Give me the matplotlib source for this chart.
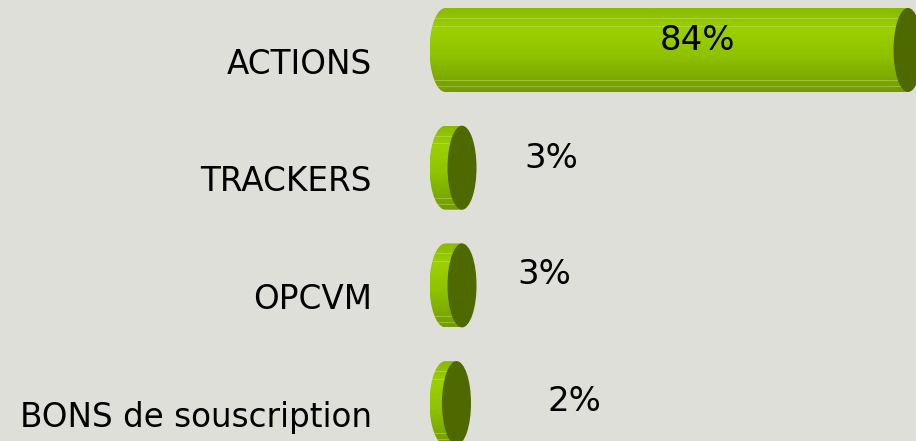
#!/usr/bin/env python3
"""Horizontal cylinder bars: breakdown of holdings by instrument type."""

import matplotlib.pyplot as plt
import numpy as np
from matplotlib.colors import LinearSegmentedColormap
from matplotlib.patches import Ellipse, PathPatch
from matplotlib.path import Path

categories = ["ACTIONS", "TRACKERS", "OPCVM", "BONS de souscription"]
values = [84, 3, 3, 2]
value_labels = ["84%", "3%", "3%", "2%"]

BG = "#dfdfda"
CAP = "#4d6900"
body_cmap = LinearSegmentedColormap.from_list(
    "body", [(0.0, "#88ba00"), (0.25, "#9dd000"), (0.55, "#90c300"), (1.0, "#729b00")]
)

PX_PER_UNIT = 5.506
ORIGIN_PX = 445.5
ROW_PX = 117.7
RX = 14.5 / PX_PER_UNIT        # half width of the end cap ellipse, data units
RX_LEFT = 16 / PX_PER_UNIT     # half width of the rounded left end
BAR_H = 84 / ROW_PX            # cylinder diameter, row units


def body_path(v, y, h):
    """Rectangle from 0 to v with a half-ellipse left end."""
    verts = [(v, y - h / 2), (0, y - h / 2)]
    tt = np.linspace(0, np.pi, 40)
    verts += [(-RX_LEFT * np.sin(a), y - (h / 2) * np.cos(a)) for a in tt]
    verts += [(v, y + h / 2), (v, y - h / 2)]
    codes = [Path.MOVETO] + [Path.LINETO] * (len(verts) - 2) + [Path.CLOSEPOLY]
    return Path(verts, codes)


def main():
    fig = plt.figure(figsize=(9.16, 4.41), dpi=100, facecolor=BG)
    ax = fig.add_axes([0, 0, 1, 1])
    ax.set_facecolor(BG)

    grad = np.linspace(0, 1, 256).reshape(-1, 1)
    for i, v in enumerate(values):
        patch = PathPatch(body_path(v, i, BAR_H), facecolor="none", edgecolor="none")
        ax.add_patch(patch)
        im = ax.imshow(grad, cmap=body_cmap, aspect="auto", interpolation="bilinear",
                       extent=[-RX_LEFT, v, i + BAR_H / 2, i - BAR_H / 2], zorder=2)
        im.set_clip_path(patch)
        # faint highlight streaks along the cylinder
        for frac in (0.12, 0.21, 0.86, 0.93):
            ln, = ax.plot([-RX_LEFT, v], [i - BAR_H / 2 + frac * BAR_H] * 2,
                          color="#c8e27a", lw=0.7, alpha=0.45, zorder=3)
            ln.set_clip_path(patch)
        ax.add_patch(Ellipse((v, i), 2 * RX, BAR_H, facecolor=CAP,
                             edgecolor="none", zorder=4))

        ax.text(-13.35, i + 0.12, categories[i], ha="right", va="center",
                fontsize=23.5, color="black", family="DejaVu Sans")

    # value labels, nudged like the original slide
    label_x = [values[0] / 2 + 3.7, values[1] + 16.3, values[2] + 14.9, values[3] + 21.5]
    label_dy = [-0.08, -0.08, -0.09, -0.01]
    for i, txt in enumerate(value_labels):
        ax.text(label_x[i], i + label_dy[i], txt, ha="center", va="center",
                fontsize=24.5, color="black", family="DejaVu Sans", zorder=5)

    ax.set_xlim(-ORIGIN_PX / PX_PER_UNIT, (916 - ORIGIN_PX) / PX_PER_UNIT)
    ax.set_ylim((441 - 50) / ROW_PX, -50 / ROW_PX)
    ax.axis("off")
    fig.savefig("out.png", dpi=100, facecolor=BG)
    plt.close(fig)


if __name__ == "__main__":
    main()
